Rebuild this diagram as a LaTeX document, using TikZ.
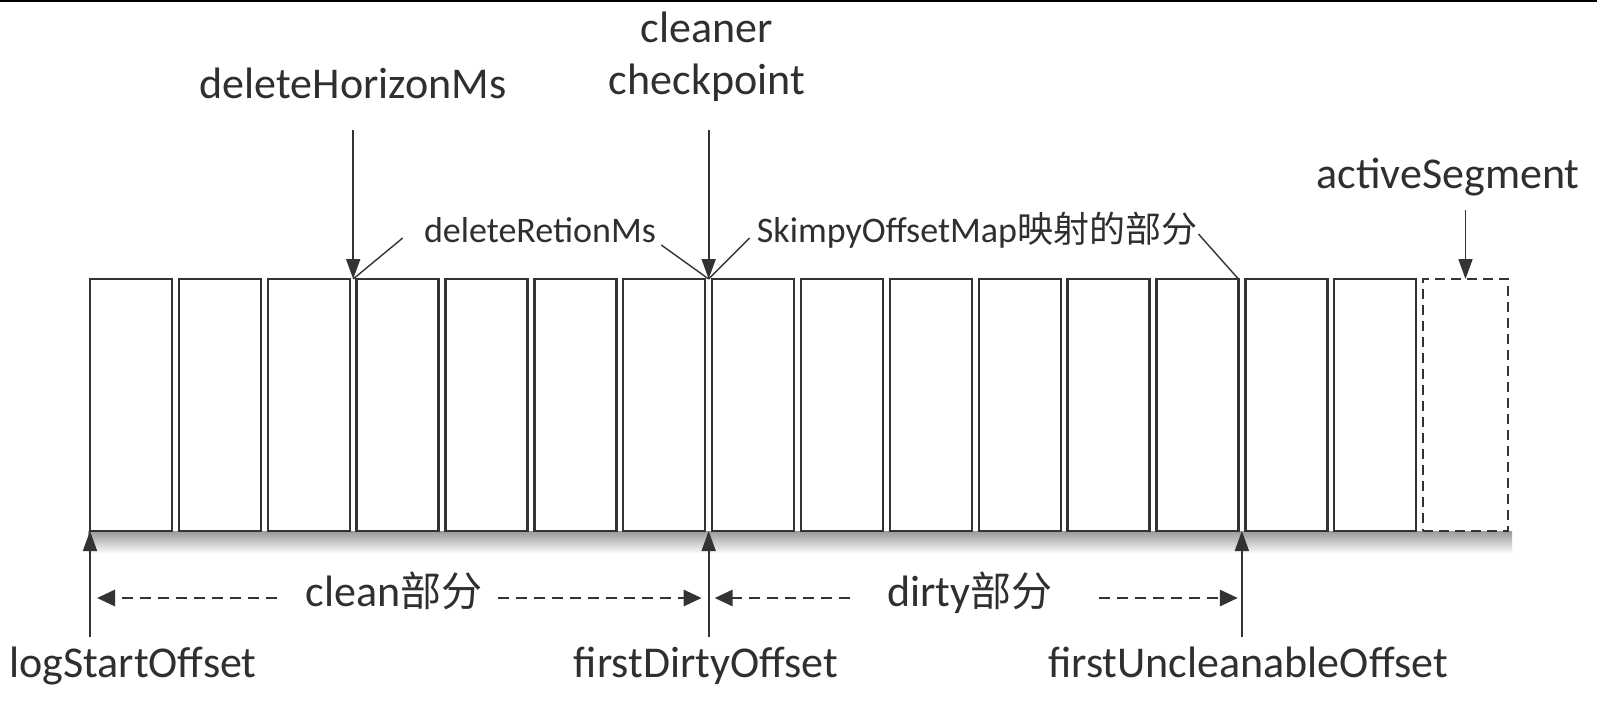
\documentclass[tikz,border=0pt]{standalone}
\usepackage{fontspec}
\setmainfont{Carlito}
\newfontfamily\cjk{Noto Sans CJK SC}
\usetikzlibrary{arrows.meta,calc}
\definecolor{ink}{HTML}{2F2F2F}
\definecolor{lin}{HTML}{333333}
\begin{document}
\begin{tikzpicture}[x=0.5pt,y=-0.5pt,
  seg/.style={draw=lin, line width=1.2pt, minimum width=41pt, minimum height=126pt, inner sep=0pt, outer sep=0pt},
  big/.style={text=ink, font=\fontsize{22}{24}\selectfont, inner sep=0pt, anchor=base},
  small/.style={text=ink, font=\fontsize{18}{20}\selectfont, inner sep=0pt, anchor=base},
  ptr/.style={draw=lin, line width=0.9pt, -{Triangle[length=10pt,width=7pt,fill=lin]}},
  lead/.style={draw=lin, line width=0.7pt},
  span/.style={draw=lin, line width=1.4pt, dash pattern=on 5.5pt off 3.5pt, -{Triangle[length=9pt,width=8pt,fill=lin]}}
]
\useasboundingbox (0,0) rectangle (1597,714);
\fill[white] (0,0) rectangle (1597,714);
\draw[black, line width=1.2pt] (0,1) -- (1597,1);

% shadow under the segments
\shade[top color=gray!80, bottom color=white] (88,531) rectangle (1512,554);

% segments
\foreach \i in {0,...,14}
  \node[seg] (b\i) at ({131+\i*88.87},405) {};
\node[seg, minimum width=42.5pt, dash pattern=on 5pt off 3pt] (act) at (1465.5,405) {};

\coordinate (dhp) at ($(b2.north east)!0.5!(b3.north west)$);
\coordinate (cpp) at ($(b6.north east)!0.5!(b7.north west)$);
\coordinate (cpb) at ($(b6.south east)!0.5!(b7.south west)$);
\coordinate (fub) at ($(b12.south east)!0.5!(b13.south west)$);

% top labels
\node[big] (dhl) at (353,98) {deleteHorizonMs};
\node[big] (cc1) at (707,42) {cleaner};
\node[big] (cc2) at (707,94) {checkpoint};
\node[big] (asl) at (1448,188) {activeSegment};
\node[small] (drl) at (540,242) {deleteRetionMs};
\node[small] (sk) at (977,242) {SkimpyOffsetMap{\cjk\fontsize{18}{20}\selectfont 映射的部分}};

\draw[ptr] (dhp |- 0,130) -- (dhp);
\draw[ptr] (cpp |- 0,130) -- (cpp);
\draw[ptr] (act.north |- 0,210) -- (act.north);

% leader lines
\draw[lead] (dhp) -- ([xshift=-10.5pt,yshift=2pt]drl.base west);
\draw[lead] ([xshift=2.5pt,yshift=-1.5pt]drl.base east) -- (cpp);
\draw[lead] (cpp) -- ([xshift=-3.5pt,yshift=2pt]sk.base west);
\draw[lead] ([xshift=0.5pt,yshift=4pt]sk.base east) -- (b12.north east);

% bottom labels
\node[big] (lso) at (133,677) {logStartOffset};
\node[big] (fdo) at (706,677) {firstDirtyOffset};
\node[big] (fuo) at (1248,677) {firstUncleanableOffset};

\draw[ptr] (b0.south west |- 0,637) -- (b0.south west);
\draw[ptr] (cpb |- 0,637) -- (cpb);
\draw[ptr] (fub |- 0,637) -- (fub);

% spans
\node[big] (cln) at (394,606) {clean{\cjk\fontsize{20.5}{22}\selectfont 部分}};
\node[big] (drt) at (970,606) {dirty{\cjk\fontsize{20.5}{22}\selectfont 部分}};

\draw[span] ([xshift=-14pt,yshift=4pt]cln.base west) -- ([xshift=3.5pt]b0.south west |- 0,598);
\draw[span] ([xshift=7.5pt,yshift=4pt]cln.base east) -- ([xshift=-3.5pt]cpb |- 0,598);
\draw[span] ([xshift=-18.5pt,yshift=4pt]drt.base west) -- ([xshift=3pt]cpb |- 0,598);
\draw[span] ([xshift=23pt,yshift=4pt]drt.base east) -- ([xshift=-2pt]fub |- 0,598);
\end{tikzpicture}
\end{document}
